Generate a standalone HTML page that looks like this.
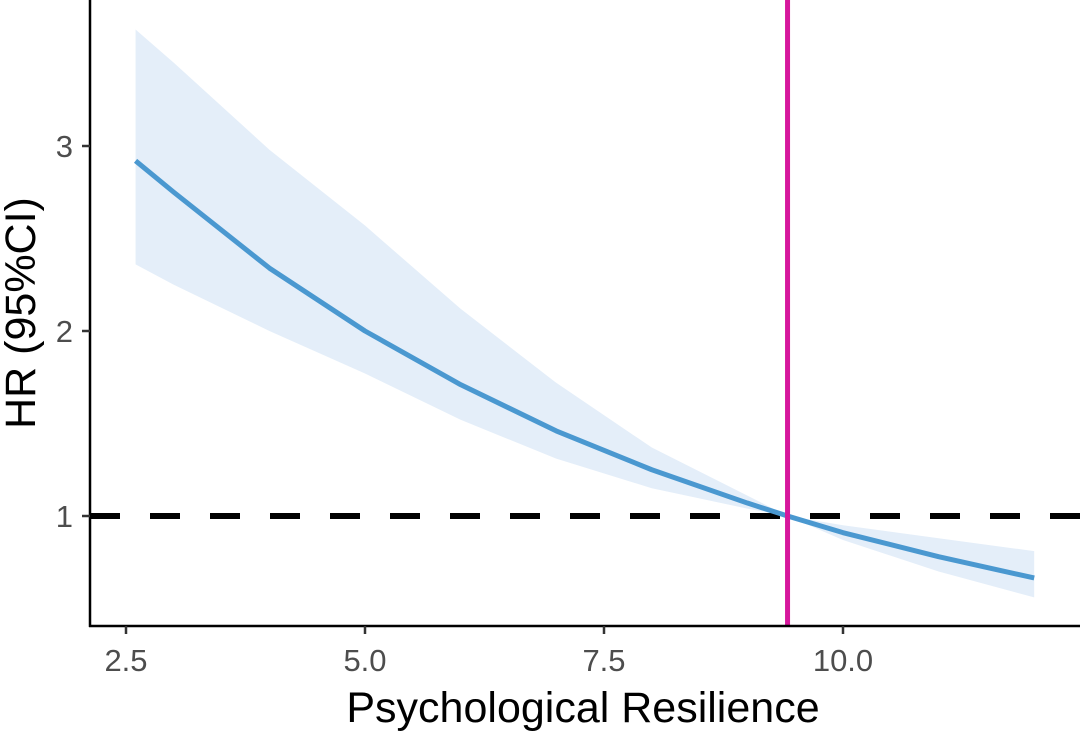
<!DOCTYPE html>
<html><head><meta charset="utf-8"><style>
body{margin:0;background:#fff}
svg{display:block;font-family:"Liberation Sans",sans-serif}
</style></head><body>
<svg width="1080" height="731" viewBox="0 0 1080 731">
<g id="plot"></g>
</svg>
<script>
const xs=[2.6,3,4,5,6,7,8,9,9.42,10,11,12];
const hr=[2.92,2.75,2.34,2.00,1.71,1.46,1.25,1.07,1.0,0.91,0.78,0.665];
const upper=[3.63,3.45,2.98,2.57,2.12,1.72,1.37,1.11,1.0,0.95,0.88,0.81];
const lower=[2.36,2.25,2.00,1.77,1.52,1.31,1.15,1.04,1.0,0.87,0.70,0.56];
const xTicks=[2.5,5.0,7.5,10.0];
const xTickLabels=["2.5","5.0","7.5","10.0"];
const yTicks=[1,2,3];
const yTickLabels=["1","2","3"];
const refHR=1;
const cutoff=9.42;

const X=v=>126+(v-2.5)*95.6;
const Y=v=>701-v*185;
const NS="http://www.w3.org/2000/svg";
const g=document.getElementById('plot');
function mk(t,a){const e=document.createElementNS(NS,t);for(const k in a)e.setAttribute(k,a[k]);g.appendChild(e);return e;}

let d="M"+xs.map((x,i)=>X(x)+","+Y(upper[i])).join("L");
for(let i=xs.length-1;i>=0;i--)d+="L"+X(xs[i])+","+Y(lower[i]);
const band=mk('path',{d:d+"Z",fill:"#e4eef9"});



const ref=mk('line',{x1:90,x2:1080,y1:Y(refHR),y2:Y(refHR),stroke:"#000","stroke-width":6,"stroke-dasharray":"30 30"});



const line=mk('polyline',{points:xs.map((x,i)=>X(x)+","+Y(hr[i])).join(" "),fill:"none",stroke:"#4a98d0","stroke-width":5,"stroke-linejoin":"round"});



const vl=mk('line',{x1:X(cutoff),x2:X(cutoff),y1:0,y2:626,stroke:"#d6179c","stroke-width":5});



const ya=mk('line',{x1:90,x2:90,y1:0,y2:627,stroke:"#000","stroke-width":2.5});


const xa=mk('line',{x1:89,x2:1080,y1:626,y2:626,stroke:"#000","stroke-width":2.5});



xTicks.forEach((v,i)=>{
 const t=mk('line',{x1:X(v),x2:X(v),y1:626,y2:634,stroke:"#333","stroke-width":2.5});
 
 
 const l=mk('text',{x:X(v),y:671,"text-anchor":"middle","font-size":31,fill:"#4d4d4d"});
 l.textContent=xTickLabels[i];
 
 
});
yTicks.forEach((v,i)=>{
 const t=mk('line',{x1:82,x2:90,y1:Y(v),y2:Y(v),stroke:"#333","stroke-width":2.5});
 
 
 const l=mk('text',{x:73,y:Y(v)+11,"text-anchor":"end","font-size":31,fill:"#4d4d4d"});
 l.textContent=yTickLabels[i];
 
 
});
const xt=mk('text',{x:583,y:722,"text-anchor":"middle","font-size":43,fill:"#000"});
xt.textContent="Psychological Resilience";


const yt=mk('text',{x:0,y:0,"text-anchor":"middle","font-size":43,fill:"#000",transform:"translate(35,313) rotate(-90)"});
yt.textContent="HR (95%CI)";


</script>
</body></html>
